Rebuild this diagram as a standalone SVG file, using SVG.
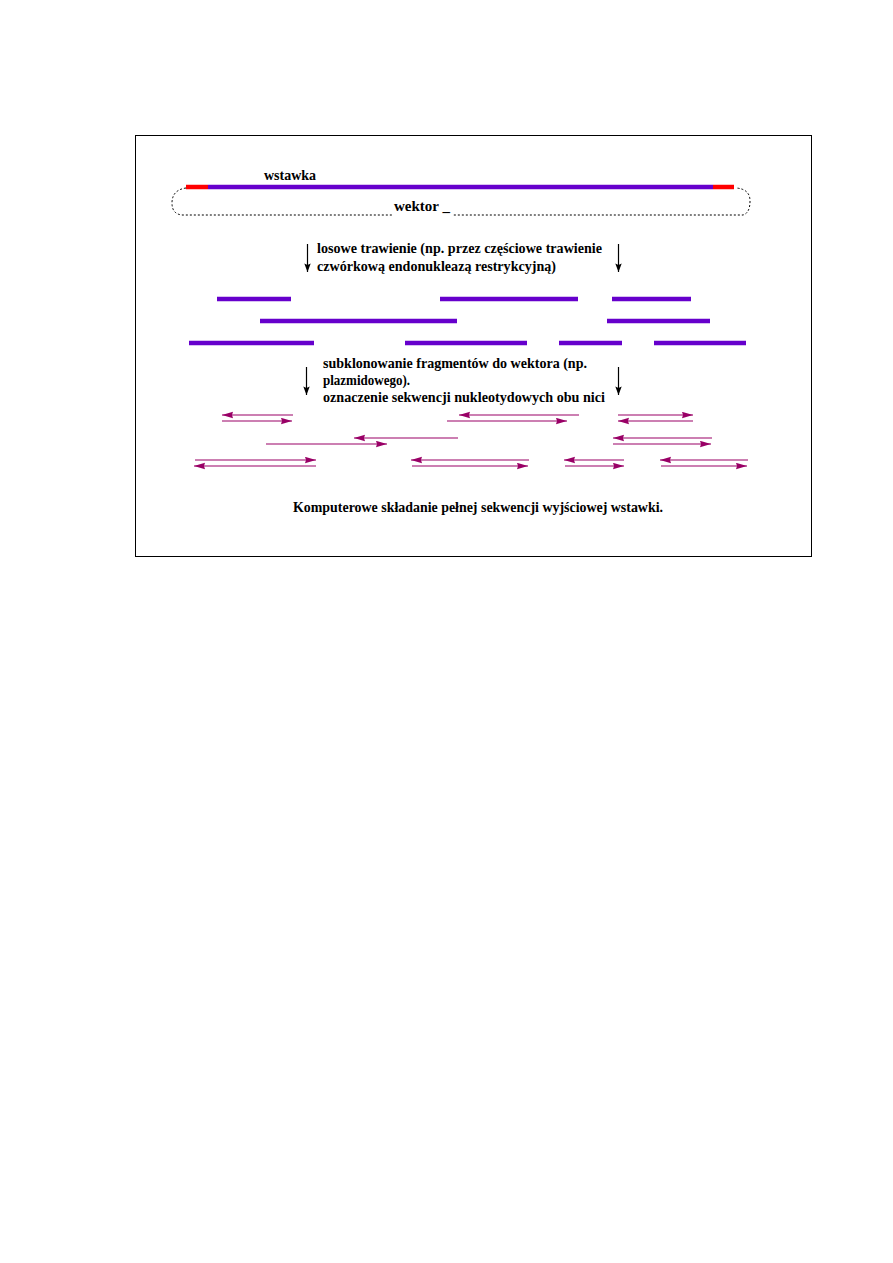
<svg xmlns="http://www.w3.org/2000/svg" width="893" height="1263" viewBox="0 0 893 1263">
<style>
text{font-family:"Liberation Serif","Times New Roman",serif;font-size:14px;font-weight:bold;fill:#000}
.ins{stroke:#6600CC;stroke-width:4.5;fill:none}
.red{stroke:#FF0000;stroke-width:4.5;fill:none}
.seq{stroke:#990066;stroke-width:1.2;fill:none;marker-end:url(#mh)}
.down{stroke:#000;stroke-width:1.2;fill:none;marker-end:url(#bh)}
</style>
<defs>
<marker id="mh" markerUnits="userSpaceOnUse" markerWidth="12" markerHeight="8" refX="11" refY="3.5" orient="auto">
<path d="M0,0.3 L11,3.5 L0,6.7 L1,3.5 z" fill="#990066"/>
</marker>
<marker id="bh" markerUnits="userSpaceOnUse" markerWidth="8" markerHeight="12" refX="4" refY="10" orient="0">
<path d="M0.8,1.5 L4,10 L7.2,1.5 L4,3 z" fill="#000"/>
</marker>
</defs>
<rect width="893" height="1263" fill="#fff"/>
<rect id="frame" x="135.5" y="135.5" width="676" height="421" fill="none" stroke="#000" stroke-width="1"/>

<g id="vector">
<path d="M186,188 Q172,190 172,203 Q172,214 182,215 L743,215 Q750,213 750,201 Q750,189 736,188" fill="none" stroke="#000" stroke-width="1" stroke-dasharray="2,2"/>
<rect x="392" y="199" width="60" height="20" fill="#fff"/>
<text x="394" y="211" textLength="56" lengthAdjust="spacingAndGlyphs">wektor _</text>
</g>
<g id="insert">
<line class="red" x1="186" y1="187" x2="208" y2="187"/>
<line class="ins" x1="208" y1="187" x2="713" y2="187"/>
<line class="red" x1="713" y1="187" x2="734" y2="187"/>
<text x="264" y="180" textLength="52" lengthAdjust="spacingAndGlyphs">wstawka</text>
</g>

<g id="step1">
<text x="317" y="253" textLength="285" lengthAdjust="spacingAndGlyphs">losowe trawienie (np. przez częściowe trawienie</text>
<text x="317" y="271" textLength="239" lengthAdjust="spacingAndGlyphs">czwórkową endonukleazą restrykcyjną)</text>
</g>

<g id="fragments">
<line class="ins" x1="217" y1="299" x2="291" y2="299"/>
<line class="ins" x1="440" y1="299" x2="578" y2="299"/>
<line class="ins" x1="612" y1="299" x2="691" y2="299"/>
<line class="ins" x1="260" y1="321" x2="457" y2="321"/>
<line class="ins" x1="607" y1="321" x2="710" y2="321"/>
<line class="ins" x1="189" y1="343" x2="314" y2="343"/>
<line class="ins" x1="405" y1="343" x2="527" y2="343"/>
<line class="ins" x1="559" y1="343" x2="622" y2="343"/>
<line class="ins" x1="654" y1="343" x2="746" y2="343"/>
</g>

<g id="step2">
<text x="323" y="368" textLength="264" lengthAdjust="spacingAndGlyphs">subklonowanie fragmentów do wektora (np.</text>
<text x="323" y="385" textLength="87" lengthAdjust="spacingAndGlyphs">plazmidowego).</text>
<text x="323" y="402" textLength="282" lengthAdjust="spacingAndGlyphs">oznaczenie sekwencji nukleotydowych obu nici</text>
</g>

<g id="reads">
<line class="seq" x1="293" y1="415" x2="222" y2="415"/>
<line class="seq" x1="222" y1="421" x2="292" y2="421"/>
<line class="seq" x1="579" y1="415" x2="459" y2="415"/>
<line class="seq" x1="447" y1="421" x2="567" y2="421"/>
<line class="seq" x1="618" y1="415" x2="693" y2="415"/>
<line class="seq" x1="693" y1="421" x2="618" y2="421"/>
<line class="seq" x1="458" y1="438" x2="354" y2="438"/>
<line class="seq" x1="266" y1="444" x2="387" y2="444"/>
<line class="seq" x1="712" y1="438" x2="613" y2="438"/>
<line class="seq" x1="613" y1="444" x2="711" y2="444"/>
<line class="seq" x1="195" y1="460" x2="316" y2="460"/>
<line class="seq" x1="316" y1="466" x2="194" y2="466"/>
<line class="seq" x1="529" y1="460" x2="411" y2="460"/>
<line class="seq" x1="412" y1="466" x2="528" y2="466"/>
<line class="seq" x1="624" y1="460" x2="564" y2="460"/>
<line class="seq" x1="565" y1="466" x2="624" y2="466"/>
<line class="seq" x1="748" y1="460" x2="660" y2="460"/>
<line class="seq" x1="661" y1="466" x2="747" y2="466"/>
</g>

<g id="result">
<text x="293" y="512" textLength="370" lengthAdjust="spacingAndGlyphs">Komputerowe składanie pełnej sekwencji wyjściowej wstawki.</text>
</g>

<g id="connectors">
<line class="down" x1="307.5" y1="244" x2="307.5" y2="272"/>
<line class="down" x1="618.5" y1="244" x2="618.5" y2="272"/>
<line class="down" x1="306.5" y1="367" x2="306.5" y2="395"/>
<line class="down" x1="618.5" y1="367" x2="618.5" y2="395"/>
</g>
</svg>
